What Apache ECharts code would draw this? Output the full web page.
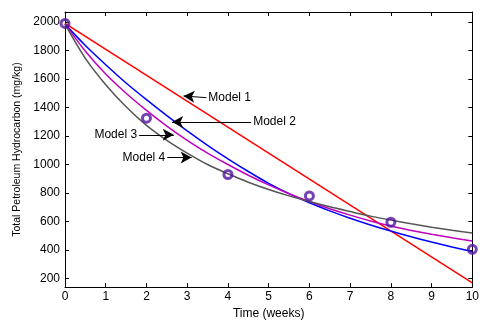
<!DOCTYPE html>
<html><head><meta charset="utf-8">
<script src="https://cdn.jsdelivr.net/npm/echarts@6/dist/echarts.min.js"></script>
<style>html,body{margin:0;padding:0;background:#fff}#c{width:482px;height:325px}</style>
</head><body><div id="c"></div>
<script>
// Data
const weeks = [0,0.5,1,1.5,2,2.5,3,3.5,4,4.5,5,5.5,6,6.5,7,7.5,8,8.5,9,9.5,10];
const yTicks = [200,400,600,800,1000,1200,1400,1600,1800,2000];
const measuredWeeks = [0,2,4,6,8,10];
const measured = [1990,1325,930,780,595,405];
const model1Weeks = [0,10];
const model1 = [1990,170];
const model2 = [1985,1835,1700,1572,1455,1343,1236,1135,1040,951,868,796,732,675,623,576,533,493,456,422,390];
const model3 = [1985,1795,1635,1500,1380,1270,1170,1080,1000,925,857,795,740,690,645,604,568,537,510,486,464];
const model4 = [1985,1745,1560,1405,1275,1170,1080,1000,935,876,825,780,740,703,670,638,610,584,560,539,520];
// annotation arrows: label, tail, tip
const notes = [
  ['Model 1',[3.47,1469],[2.91,1481]],
  ['Model 2',[4.57,1298],[2.63,1298]],
  ['Model 3',[1.82,1208],[2.67,1208]],
  ['Model 4',[2.51,1050],[3.11,1050]]
];

const pair = (xs, ys) => xs.map((x, i) => [x, ys[i]]);
const font = 'Liberation Sans, Arial, Helvetica, sans-serif';
const chart = echarts.init(document.getElementById('c'), null, {renderer:'canvas'});
const axLine = {show:true, onZero:false, lineStyle:{color:'#000', width:1}};
function tickIn(extra){ return Object.assign({show:true, inside:true, length:4, lineStyle:{color:'#000', width:1}}, extra||{}); }

function noteLines() {
  return {
    silent:true,
    symbol:['none','arrow'],
    symbolSize:[9,11],
    lineStyle:{color:'#000', width:1, type:'solid'},
    label:{show:true, position:'start', distance:2, color:'#000', fontSize:12, fontFamily:font,
      formatter: p => p.name},
    data: notes.map(n => [{name:n[0], coord:n[1]}, {coord:n[2]}])
  };
}

chart.setOption({
  animation:false,
  backgroundColor:'#fff',
  textStyle:{fontFamily:font},
  grid:{left:65, right:4, top:12, bottom:28, containLabel:false},
  xAxis:[
    {type:'value', min:0, max:10, interval:1, position:'bottom',
     axisLine:axLine, axisTick:tickIn(), splitLine:{show:false},
     axisLabel:{color:'#000', fontSize:12, margin:4, fontFamily:font},
     name:'Time (weeks)', nameLocation:'middle', nameGap:19,
     nameTextStyle:{color:'#000', fontSize:12, fontFamily:font}},
    {type:'value', min:0, max:10, interval:1, position:'top',
     axisLine:axLine, axisTick:tickIn(), splitLine:{show:false}, axisLabel:{show:false}}
  ],
  yAxis:[
    {type:'value', min:140, max:2070, position:'left',
     axisLine:axLine,
     axisTick:tickIn({customValues:yTicks}),
     splitLine:{show:false},
     axisLabel:{customValues:yTicks, color:'#000', fontSize:12, margin:5, fontFamily:font,
       formatter: v => String(v)},
     name:'Total Petroleum Hydrocarbon (mg/kg)', nameLocation:'middle', nameGap:39, nameRotate:90,
     nameTextStyle:{color:'#000', fontSize:10.5, fontFamily:font}},
    {type:'value', min:140, max:2070, position:'right',
     axisLine:axLine,
     axisTick:tickIn({customValues:yTicks}),
     splitLine:{show:false}, axisLabel:{show:false}}
  ],
  series:[
    {name:'Model 1', type:'line', data:pair(model1Weeks, model1), showSymbol:false, lineStyle:{color:'#ff0000', width:1.5}, z:3, markLine:noteLines()},
    {name:'Model 2', type:'line', data:pair(weeks, model2), smooth:0.3, showSymbol:false, lineStyle:{color:'#0000ff', width:1.5}, z:3},
    {name:'Model 3', type:'line', data:pair(weeks, model3), smooth:0.3, showSymbol:false, lineStyle:{color:'#c000c0', width:1.5}, z:3},
    {name:'Model 4', type:'line', data:pair(weeks, model4), smooth:0.3, showSymbol:false, lineStyle:{color:'#555555', width:1.5}, z:3},
    {name:'Measured', type:'scatter', data:pair(measuredWeeks, measured), symbol:'circle', symbolSize:8,
     itemStyle:{color:'rgba(255,255,255,0)', borderColor:'#5212a0', borderWidth:3}, z:5}
  ]
});
</script></body></html>
